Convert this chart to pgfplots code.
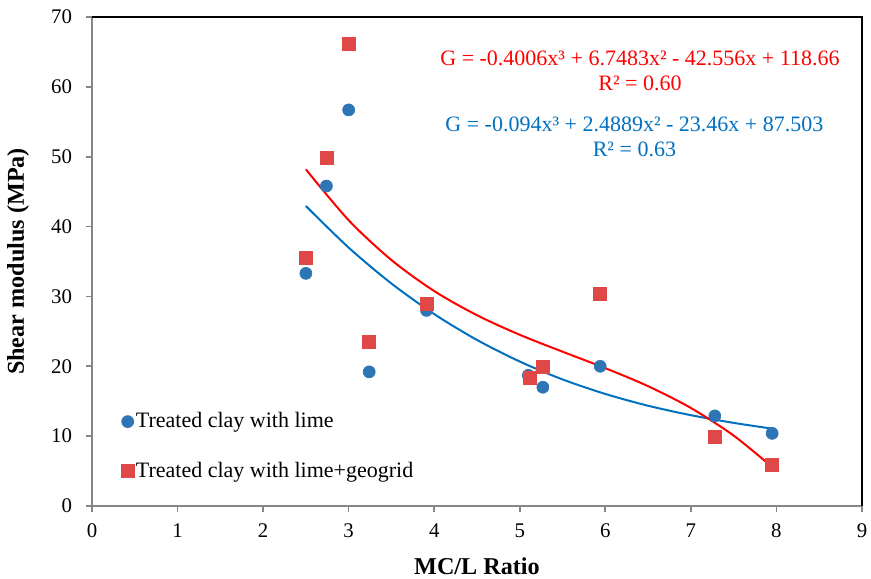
\documentclass[border=0pt]{standalone}
\usepackage{pgfplots}
\pgfplotsset{compat=1.18}
\usepackage{fontspec}
\setmainfont{Liberation Serif}
\definecolor{mblue}{HTML}{2E75B6}
\definecolor{mred}{HTML}{E04848}
\definecolor{lblue}{HTML}{0070C0}
\definecolor{axgray}{HTML}{868686}
\begin{document}
\begin{tikzpicture}
\begin{axis}[
  scale only axis,
  width=462pt, height=293.4pt,
  xmin=0, xmax=9, ymin=0, ymax=70,
  xtick={0,1,...,9}, ytick={0,10,...,70},
  axis x line*=bottom, axis y line*=left,
  axis line style={axgray, line width=1.2pt},
  every tick/.style={axgray, line width=1pt},
  tick align=outside, major tick length=3.5pt,
  /pgf/number format/assume math mode=true,
  tick label style={font=\fontsize{12.5}{14}\selectfont, black},
  xticklabel style={yshift=-3.5pt},
  yticklabel style={xshift=-5pt},
  xlabel={\textbf{MC/L Ratio}},
  ylabel={\textbf{Shear modulus (MPa)}},
  label style={font=\fontsize{14.5}{16}\selectfont},
  xlabel style={at={(axis description cs:0.5,-0.1227)}, anchor=center},
  ylabel style={at={(axis description cs:-0.0961,0.5)}, anchor=center},
  legend style={at={(rel axis cs:0.031,0.039)}, anchor=south west, draw=none, fill=none,
    font=\fontsize{13.2}{15}\selectfont, row sep=15pt, nodes={inner xsep=1pt}},
  legend cell align=left,
  legend image code/.code={\draw[#1] plot coordinates {(0.15cm,0cm)};},
  clip=false,
]
\addplot[only marks, mark=*, mark size=3.6pt, mblue, mark options={draw=mblue, fill=mblue}] coordinates {
(2.5,33.3) (2.74,45.8) (3.0,56.7) (3.24,19.2) (3.91,28.0) (5.1,18.7) (5.27,17.0) (5.94,20.0) (7.28,12.9) (7.95,10.4)};
\addlegendentry{Treated clay with lime}
\addplot[only marks, mark=square*, mark size=3.9pt, mred, mark options={draw=mred, fill=mred}] coordinates {
(2.5,35.5) (2.74,49.9) (3.0,66.2) (3.24,23.5) (3.91,29.0) (5.12,18.3) (5.27,19.9) (5.94,30.3) (7.28,9.9) (7.95,5.9)};
\addlegendentry{Treated clay with lime+geogrid}
\addplot[lblue, line width=1.2pt, smooth, forget plot] coordinates {
(2.5,42.94) (3.0,36.99) (3.5,31.85) (4.0,27.47) (4.5,23.77) (5.0,20.68) (5.5,18.12) (6.0,16.04) (6.5,14.35) (7.0,13.00) (7.5,11.90) (7.95,11.07)};
\addplot[red, line width=1.2pt, smooth, forget plot] coordinates {
(2.5,48.19) (3.0,40.91) (3.5,35.21) (4.0,30.77) (4.5,27.31) (5.0,24.51) (5.5,22.09) (6.0,19.73) (6.5,17.15) (7.0,14.03) (7.5,10.08) (7.95,5.57)};
\draw[black, line width=1.5pt] (rel axis cs:0,1) -- (rel axis cs:1,1) -- (rel axis cs:1,0);
\node[red, align=center, font=\fontsize{13.2}{15}\selectfont] at (axis cs:6.405,62.3)
  {G = -0.4006x³ + 6.7483x² - 42.556x + 118.66\\R² = 0.60};
\node[lblue, align=center, font=\fontsize{13.2}{15}\selectfont] at (axis cs:6.34,52.9)
  {G = -0.094x³ + 2.4889x² - 23.46x + 87.503\\R² = 0.63};
\end{axis}
\pgfresetboundingbox
\path[use as bounding box] (-55.2pt,-43.8pt) rectangle (467.4pt,303.6pt);
\end{tikzpicture}
\end{document}
